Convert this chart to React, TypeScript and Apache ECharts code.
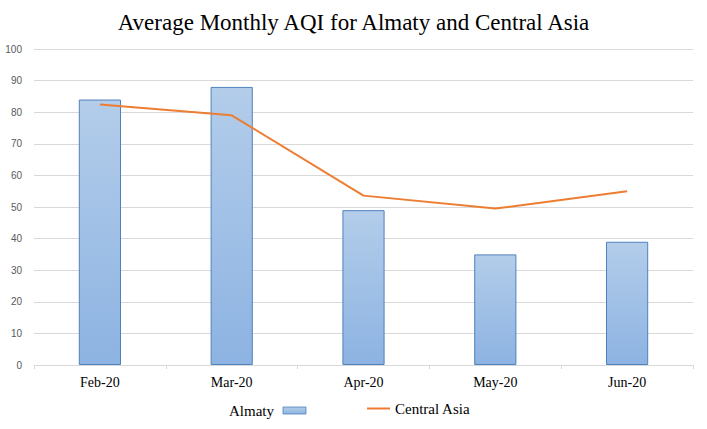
import React, { useEffect, useRef } from "react";
import * as echarts from "echarts";

const categories = ["Feb-20", "Mar-20", "Apr-20", "May-20", "Jun-20"];
const almaty = [84, 88, 49, 35, 39];
const centralAsia = [82.4, 79, 53.6, 49.5, 55];
const yTicks = [0, 10, 20, 30, 40, 50, 60, 70, 80, 90, 100];

export default function App() {
  const ref = useRef<HTMLDivElement>(null);
  useEffect(() => {
    const chart = echarts.init(ref.current!, null, { renderer: "svg" });
    const serif = "'Liberation Serif', 'DejaVu Serif', serif";
    chart.setOption({
      animation: false,
      backgroundColor: "#ffffff",
      title: {
        text: "Average Monthly AQI for Almaty and Central Asia",
        left: "center",
        top: 6,
        textStyle: { fontFamily: serif, fontSize: 23, fontWeight: "normal", color: "#000000" },
      },
      legend: [
        {
          data: [{ name: "Almaty", icon: "rect" }],
          left: 224,
          top: 398,
          align: "right",
          itemWidth: 23,
          itemHeight: 7,
          itemGap: 8,
          itemStyle: { borderWidth: 0.8 },
          textStyle: { fontFamily: serif, fontSize: 15, color: "#000000", padding: [0, 4, 0, 0] },
        },
        {
          data: [{ name: "Central Asia", icon: "rect" }],
          left: 362,
          top: 396,
          align: "left",
          itemWidth: 23,
          itemHeight: 2,
          textStyle: { fontFamily: serif, fontSize: 15, color: "#000000" },
        },
      ],
      grid: { left: 34, right: 14, top: 49, bottom: 64, containLabel: false },
      xAxis: {
        type: "category",
        data: categories,
        axisLine: { lineStyle: { color: "#d9d9d9" } },
        axisTick: { show: true, length: 4, lineStyle: { color: "#d9d9d9" } },
        axisLabel: { fontFamily: serif, fontSize: 14, color: "#000000", margin: 10 },
      },
      yAxis: {
        type: "value",
        min: yTicks[0],
        max: yTicks[yTicks.length - 1],
        interval: 10,
        axisLine: { show: false },
        axisTick: { show: false },
        axisLabel: { fontFamily: "'Liberation Sans', Arial, sans-serif", fontSize: 10, color: "#595959", margin: 12 },
        splitLine: { lineStyle: { color: "#d9d9d9" } },
      },
      series: [
        {
          name: "Almaty",
          type: "bar",
          data: almaty,
          barWidth: "32%",
          itemStyle: {
            color: new echarts.graphic.LinearGradient(0, 0, 0, 1, [
              { offset: 0, color: "#b3cdea" },
              { offset: 1, color: "#8db3e2" },
            ]),
            borderColor: "#4f81bd",
            borderWidth: 1,
          },
        },
        {
          name: "Central Asia",
          type: "line",
          data: centralAsia,
          symbol: "none",
          lineStyle: { color: "#ed7d31", width: 2 },
          itemStyle: { color: "#ed7d31" },
        },
      ],
    });
    return () => chart.dispose();
  }, []);
  return <div ref={ref} style={{ width: 707, height: 429, position: "absolute", left: 0, top: 0 }} />;
}
